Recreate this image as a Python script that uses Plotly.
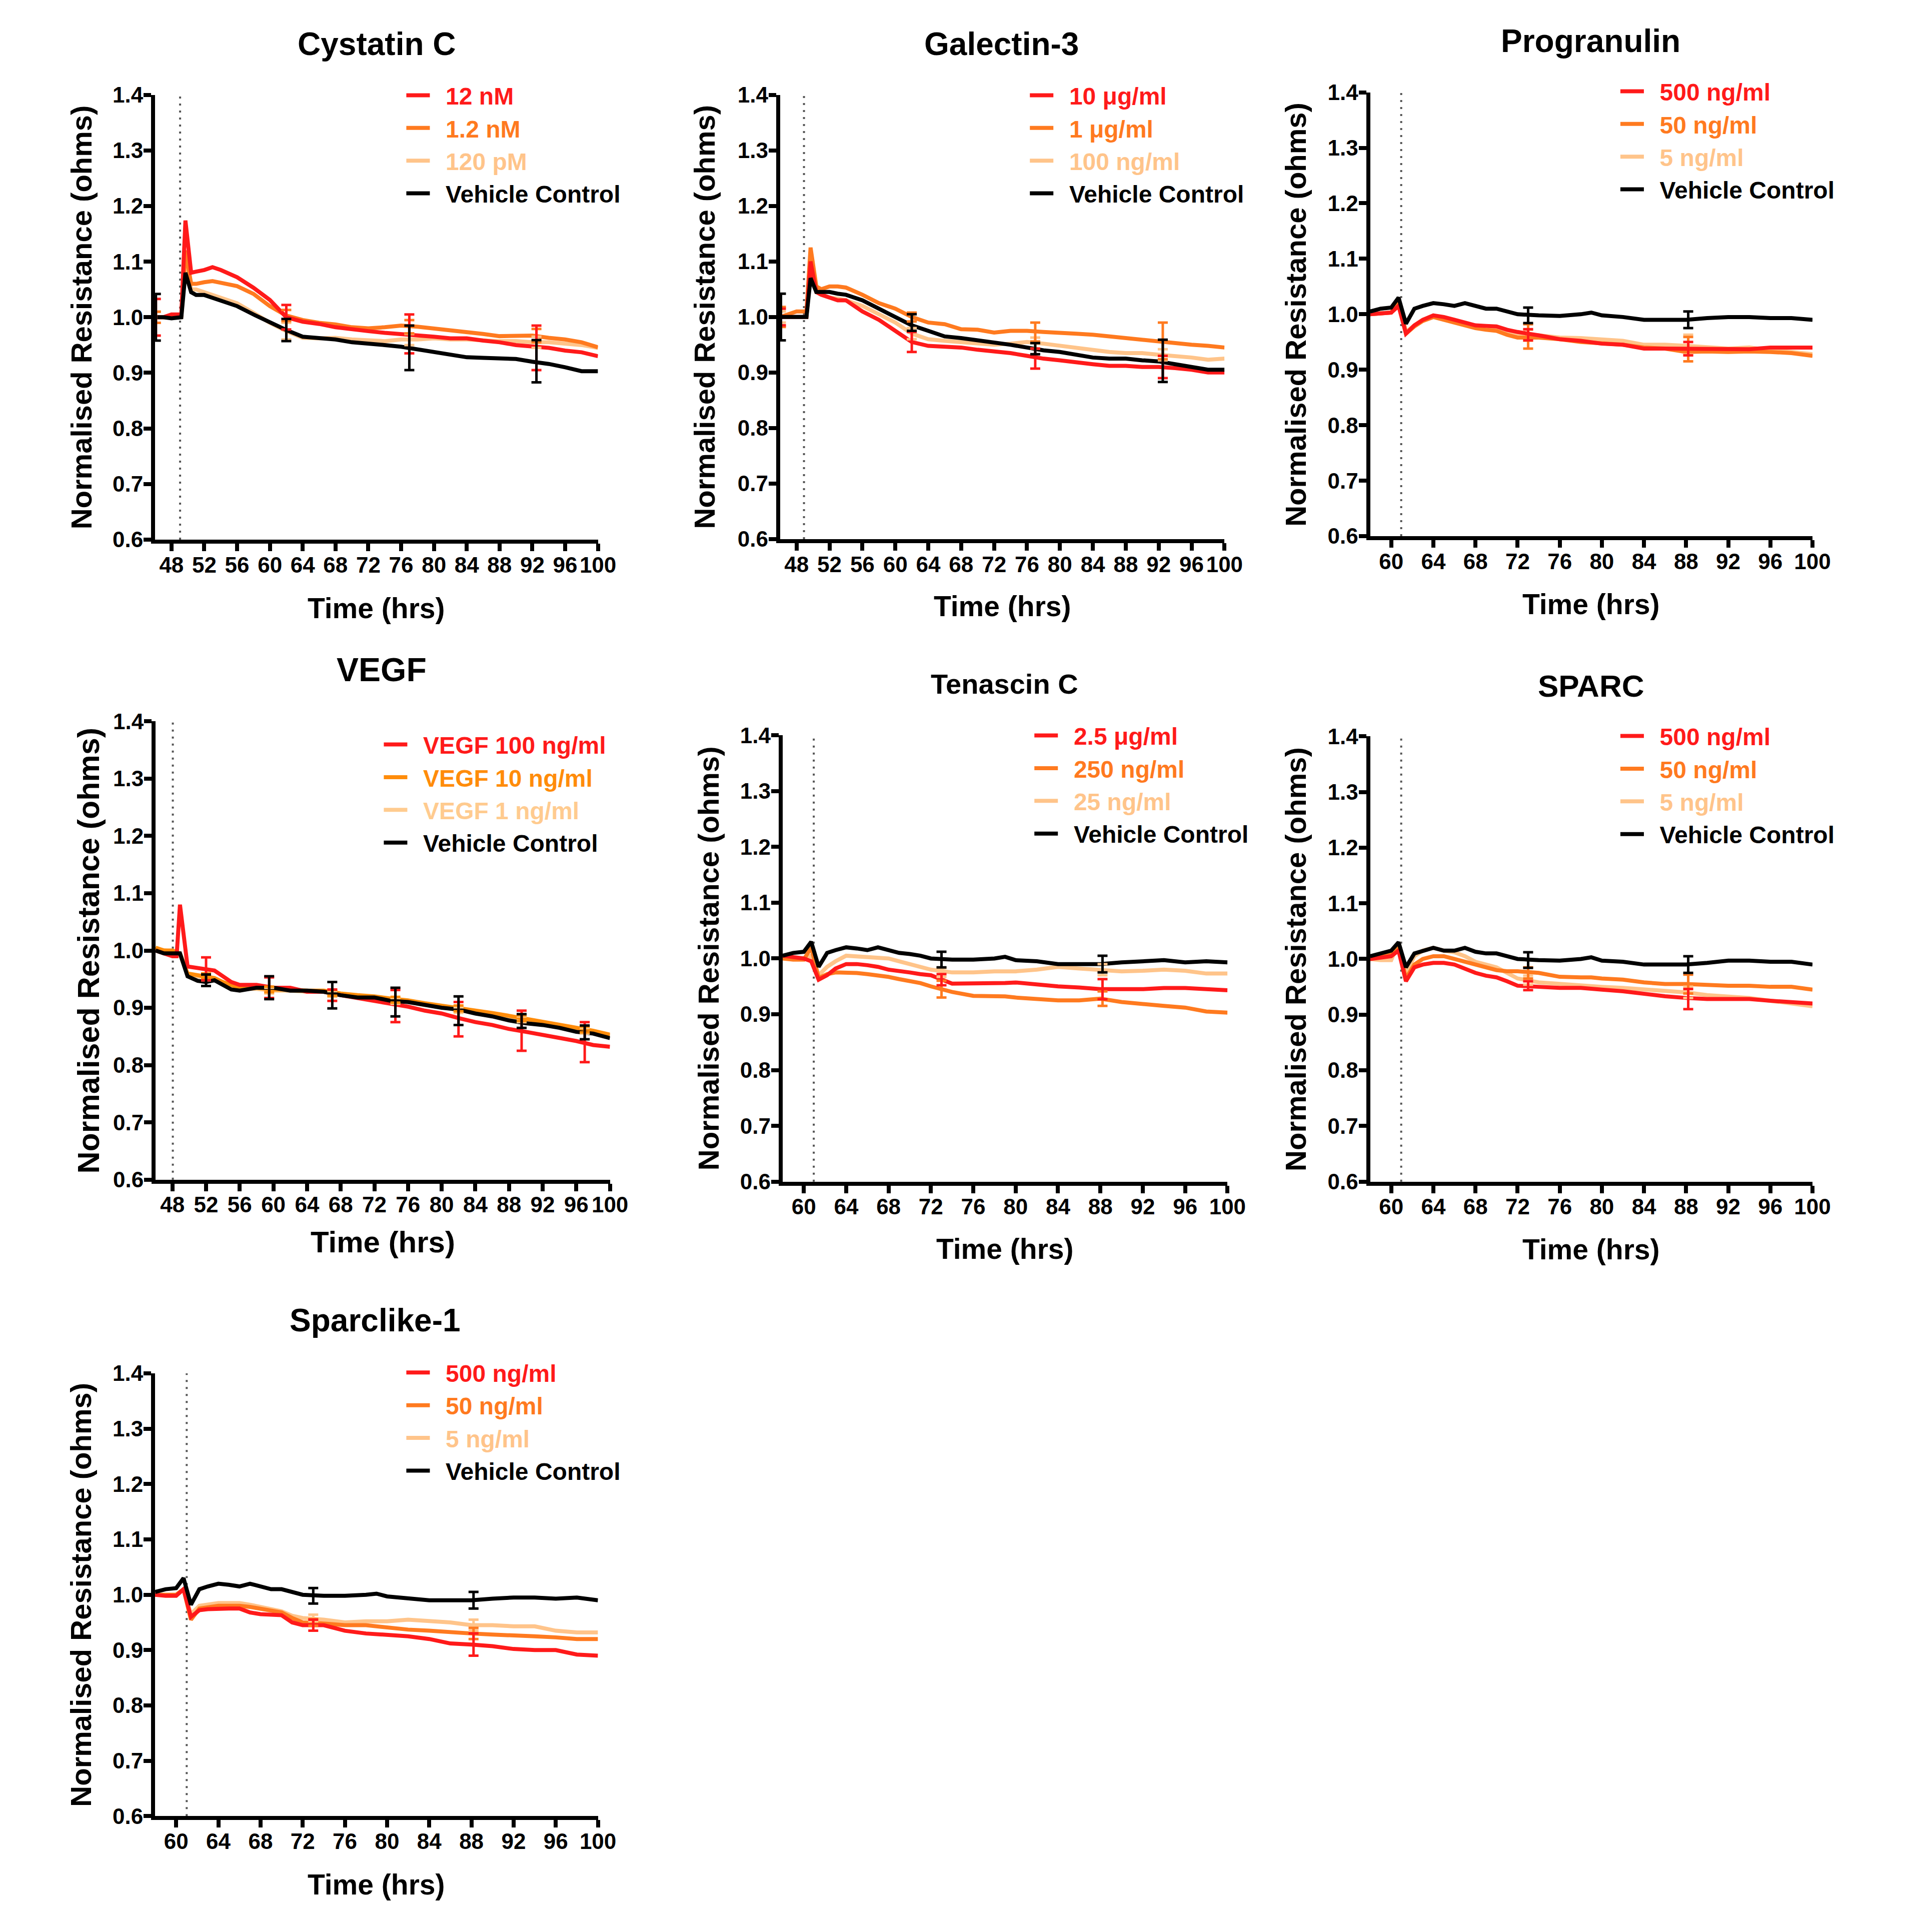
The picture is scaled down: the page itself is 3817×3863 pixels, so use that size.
import plotly.graph_objects as go

W, H = 3817, 3863
FONT = "Liberation Sans, Arial, sans-serif"

# ---------------- colours ----------------
RED = "#FF1A1A"
ORANGE = "#FF7A1F"
PEACH = "#FFC48A"
BLACK = "#000000"
V_ORANGE = "#FF8C0A"
V_PEACH = "#FFCB8F"

# ---------------- data ----------------
# time axes (hrs)
T_A = [46, 47, 48, 49.2, 49.7, 50.4, 51, 52, 53, 54, 56, 58, 60, 62, 64, 66, 68, 70, 72, 74,
       76, 78, 80, 82, 84, 86, 88, 90, 92, 94, 96, 98, 100]
T_V = [46, 47, 48, 48.5, 48.9, 49.8, 51, 52, 53, 54, 55, 56, 58, 60, 62, 64, 66, 68, 70, 72,
       74, 76, 78, 80, 82, 84, 86, 88, 90, 92, 94, 96, 98, 100]
T_B = [58, 59, 60, 60.7, 61.4, 62.2, 63, 64, 65, 66, 67, 68, 69, 70, 71, 72, 74, 76, 78, 79,
       80, 82, 84, 86, 88, 90, 92, 94, 96, 98, 100]

# Cystatin C
CYS_12NM = [1.000, 1.000, 1.005, 1.005, 1.174, 1.080, 1.082, 1.085, 1.090, 1.085, 1.072, 1.053, 1.031,
            1.000, 0.992, 0.988, 0.982, 0.978, 0.975, 0.972, 0.970, 0.968, 0.965, 0.962, 0.962, 0.958,
            0.955, 0.950, 0.948, 0.945, 0.940, 0.937, 0.930]
CYS_1_2NM = [1.000, 1.000, 1.000, 1.003, 1.120, 1.060, 1.060, 1.063, 1.065, 1.062, 1.056, 1.042, 1.020,
             1.003, 0.995, 0.990, 0.987, 0.982, 0.980, 0.982, 0.985, 0.983, 0.980, 0.977, 0.973, 0.970,
             0.966, 0.966, 0.967, 0.963, 0.960, 0.955, 0.946]
CYS_120PM = [1.000, 1.000, 1.000, 1.000, 1.100, 1.050, 1.050, 1.045, 1.040, 1.035, 1.025, 1.008, 0.990,
             0.975, 0.963, 0.962, 0.963, 0.960, 0.958, 0.957, 0.960, 0.960, 0.962, 0.960, 0.960, 0.958,
             0.957, 0.957, 0.955, 0.955, 0.952, 0.950, 0.945]
CYS_VC = [1.000, 1.000, 0.998, 1.000, 1.080, 1.045, 1.040, 1.040, 1.035, 1.030, 1.020, 1.005, 0.990,
          0.977, 0.965, 0.962, 0.960, 0.955, 0.953, 0.950, 0.947, 0.942, 0.937, 0.933, 0.928, 0.927,
          0.926, 0.925, 0.920, 0.916, 0.910, 0.903, 0.903]

# Galectin-3
GAL_10UG = [1.000, 1.000, 1.000, 1.000, 1.100, 1.045, 1.040, 1.035, 1.030, 1.030, 1.010, 0.995, 0.975,
            0.955, 0.948, 0.946, 0.945, 0.941, 0.938, 0.935, 0.930, 0.925, 0.922, 0.918, 0.915, 0.912,
            0.912, 0.910, 0.910, 0.908, 0.905, 0.900, 0.900]
GAL_1UG = [1.000, 1.005, 1.010, 1.010, 1.125, 1.055, 1.050, 1.055, 1.055, 1.053, 1.040, 1.025, 1.015,
           1.000, 0.990, 0.987, 0.978, 0.977, 0.972, 0.975, 0.975, 0.973, 0.972, 0.970, 0.968, 0.965,
           0.962, 0.958, 0.955, 0.953, 0.950, 0.948, 0.945]
GAL_100NG = [1.000, 1.000, 1.000, 1.000, 1.090, 1.045, 1.040, 1.035, 1.033, 1.030, 1.020, 1.005, 0.990,
             0.970, 0.960, 0.957, 0.955, 0.952, 0.950, 0.952, 0.955, 0.952, 0.948, 0.945, 0.940, 0.937,
             0.935, 0.935, 0.932, 0.930, 0.927, 0.923, 0.925]
GAL_VC = [1.000, 1.000, 1.000, 1.000, 1.070, 1.045, 1.045, 1.045, 1.042, 1.040, 1.030, 1.015, 1.000,
          0.985, 0.975, 0.965, 0.962, 0.958, 0.955, 0.950, 0.945, 0.940, 0.937, 0.932, 0.927, 0.925,
          0.925, 0.922, 0.920, 0.915, 0.910, 0.905, 0.905]

# VEGF
VEGF_100 = [1.000, 0.995, 0.990, 0.990, 1.080, 0.972, 0.970, 0.968, 0.965, 0.955, 0.945, 0.940, 0.940,
            0.935, 0.935, 0.928, 0.928, 0.922, 0.917, 0.912, 0.907, 0.902, 0.895, 0.890, 0.882, 0.875,
            0.870, 0.863, 0.858, 0.853, 0.848, 0.842, 0.835, 0.832]
VEGF_10 = [1.005, 1.000, 1.000, 0.998, 0.995, 0.960, 0.957, 0.955, 0.952, 0.945, 0.940, 0.935, 0.935,
           0.932, 0.932, 0.930, 0.930, 0.925, 0.922, 0.920, 0.916, 0.913, 0.908, 0.904, 0.900, 0.896,
           0.891, 0.886, 0.881, 0.876, 0.871, 0.865, 0.860, 0.853]
VEGF_1 = [1.003, 1.000, 0.998, 0.997, 0.993, 0.958, 0.955, 0.953, 0.950, 0.943, 0.938, 0.933, 0.933,
          0.930, 0.930, 0.928, 0.928, 0.923, 0.920, 0.918, 0.913, 0.910, 0.905, 0.901, 0.897, 0.893,
          0.888, 0.883, 0.878, 0.873, 0.868, 0.862, 0.857, 0.850]
VEGF_VC = [1.000, 0.995, 0.995, 0.995, 0.995, 0.955, 0.947, 0.945, 0.948, 0.940, 0.932, 0.930, 0.935,
           0.935, 0.930, 0.930, 0.928, 0.922, 0.918, 0.918, 0.912, 0.910, 0.905, 0.900, 0.897, 0.890,
           0.885, 0.878, 0.873, 0.870, 0.865, 0.858, 0.855, 0.847]

# Progranulin
PRG_500 = [1.000, 1.002, 1.003, 1.015, 0.965, 0.980, 0.990, 0.998, 0.995, 0.990, 0.985, 0.980, 0.979,
           0.978, 0.972, 0.968, 0.962, 0.955, 0.952, 0.950, 0.947, 0.945, 0.938, 0.938, 0.938, 0.937,
           0.937, 0.937, 0.940, 0.940, 0.940]
PRG_50 = [1.000, 1.002, 1.003, 1.020, 0.965, 0.978, 0.988, 0.995, 0.990, 0.985, 0.980, 0.975, 0.972,
          0.970, 0.963, 0.958, 0.958, 0.955, 0.950, 0.949, 0.948, 0.945, 0.940, 0.938, 0.932, 0.933,
          0.932, 0.933, 0.932, 0.930, 0.925]
PRG_5 = [1.000, 1.002, 1.003, 1.030, 0.968, 0.980, 0.990, 0.997, 0.992, 0.987, 0.983, 0.978, 0.975,
         0.972, 0.966, 0.962, 0.962, 0.958, 0.957, 0.956, 0.955, 0.952, 0.945, 0.945, 0.943, 0.940,
         0.938, 0.940, 0.935, 0.932, 0.928]
PRG_VC = [1.005, 1.010, 1.012, 1.030, 0.983, 1.010, 1.015, 1.020, 1.018, 1.015, 1.020, 1.015, 1.010,
          1.010, 1.005, 1.000, 0.998, 0.997, 1.000, 1.003, 0.998, 0.995, 0.990, 0.990, 0.990, 0.993,
          0.995, 0.995, 0.993, 0.993, 0.990]

# Tenascin C
TEN_2_5UG = [1.005, 1.003, 1.000, 0.995, 0.962, 0.970, 0.982, 0.990, 0.990, 0.988, 0.985, 0.980, 0.978,
             0.975, 0.972, 0.970, 0.955, 0.955, 0.955, 0.956, 0.957, 0.953, 0.950, 0.948, 0.945, 0.945,
             0.945, 0.947, 0.947, 0.945, 0.943]
TEN_250NG = [1.000, 0.998, 0.998, 1.020, 0.965, 0.972, 0.975, 0.975, 0.974, 0.972, 0.970, 0.967, 0.963,
             0.960, 0.956, 0.950, 0.940, 0.933, 0.933, 0.932, 0.930, 0.928, 0.925, 0.925, 0.928, 0.922,
             0.918, 0.915, 0.912, 0.905, 0.903]
TEN_25NG = [1.000, 1.000, 1.000, 1.005, 0.970, 0.985, 0.995, 1.005, 1.004, 1.003, 1.001, 1.000, 0.995,
            0.990, 0.985, 0.980, 0.975, 0.975, 0.977, 0.977, 0.977, 0.980, 0.985, 0.982, 0.980, 0.977,
            0.978, 0.980, 0.978, 0.973, 0.973]
TEN_VC = [1.005, 1.010, 1.012, 1.030, 0.985, 1.010, 1.015, 1.020, 1.018, 1.015, 1.020, 1.015, 1.010,
          1.008, 1.005, 1.000, 0.998, 0.998, 1.000, 1.003, 0.997, 0.995, 0.990, 0.990, 0.990, 0.993,
          0.995, 0.997, 0.993, 0.995, 0.993]

# SPARC
SPC_500 = [1.000, 1.003, 1.005, 1.015, 0.960, 0.985, 0.990, 0.993, 0.993, 0.990, 0.982, 0.975, 0.970,
           0.967, 0.960, 0.952, 0.950, 0.948, 0.948, 0.947, 0.945, 0.942, 0.937, 0.933, 0.930, 0.928,
           0.928, 0.928, 0.925, 0.923, 0.920]
SPC_50 = [1.000, 1.005, 1.010, 1.020, 0.965, 0.990, 1.000, 1.005, 1.005, 1.000, 0.995, 0.990, 0.985,
          0.980, 0.978, 0.978, 0.975, 0.968, 0.967, 0.967, 0.965, 0.963, 0.958, 0.955, 0.955, 0.953,
          0.952, 0.952, 0.950, 0.950, 0.945]
SPC_5 = [1.000, 0.998, 0.998, 1.030, 0.975, 1.005, 1.015, 1.020, 1.015, 1.012, 1.005, 0.995, 0.990,
         0.985, 0.975, 0.965, 0.958, 0.955, 0.952, 0.951, 0.950, 0.948, 0.945, 0.943, 0.940, 0.935,
         0.932, 0.930, 0.925, 0.920, 0.915]
SPC_VC = [1.005, 1.010, 1.015, 1.030, 0.985, 1.010, 1.015, 1.020, 1.015, 1.015, 1.020, 1.013, 1.010,
          1.010, 1.005, 1.000, 0.998, 0.997, 1.000, 1.003, 0.997, 0.995, 0.990, 0.990, 0.990, 0.993,
          0.997, 0.997, 0.995, 0.995, 0.990]

# Sparclike-1
SPL_500 = [1.000, 0.998, 0.998, 1.010, 0.960, 0.972, 0.974, 0.975, 0.975, 0.975, 0.968, 0.965, 0.964,
           0.963, 0.950, 0.945, 0.945, 0.935, 0.930, 0.929, 0.928, 0.925, 0.920, 0.912, 0.910, 0.907,
           0.902, 0.900, 0.900, 0.892, 0.890]
SPL_50 = [1.000, 1.000, 1.000, 1.010, 0.955, 0.975, 0.978, 0.980, 0.980, 0.980, 0.978, 0.975, 0.972,
          0.968, 0.958, 0.950, 0.948, 0.945, 0.945, 0.943, 0.942, 0.937, 0.935, 0.932, 0.930, 0.928,
          0.927, 0.925, 0.923, 0.920, 0.920]
SPL_5 = [1.000, 1.000, 1.000, 1.010, 0.965, 0.980, 0.983, 0.985, 0.985, 0.985, 0.982, 0.978, 0.974,
         0.970, 0.962, 0.958, 0.955, 0.950, 0.952, 0.952, 0.952, 0.955, 0.953, 0.950, 0.945, 0.945,
         0.943, 0.943, 0.935, 0.932, 0.932]
SPL_VC = [1.005, 1.010, 1.012, 1.030, 0.982, 1.010, 1.015, 1.020, 1.018, 1.015, 1.020, 1.015, 1.010,
          1.010, 1.005, 1.000, 0.998, 0.998, 1.000, 1.002, 0.997, 0.993, 0.990, 0.990, 0.990, 0.993,
          0.995, 0.995, 0.993, 0.995, 0.990]

# error bars (time, mean, sem)
ERR_T_A = [46.1, 62, 77, 92.5]
ERR_T_V = [52, 59.5, 67, 74.5, 82, 89.5, 97]
ERR_T_B = [73, 88.2]

CYS_ERR = {
    "red": ([1.000, 1.000, 0.970, 0.945], [0.033, 0.022, 0.035, 0.040]),
    "orange": ([1.000, 1.003, 0.983, 0.967], [0.010, 0.010, 0.012, 0.012]),
    "peach": ([1.000, 0.975, 0.960, 0.955], [0.010, 0.015, 0.010, 0.010]),
    "black": ([1.000, 0.977, 0.945, 0.921], [0.042, 0.020, 0.040, 0.038]),
}
GAL_ERR = {
    "red": ([1.000, 0.955, 0.925, 0.910], [0.015, 0.018, 0.018, 0.020]),
    "orange": ([1.000, 1.000, 0.973, 0.957], [0.018, 0.008, 0.017, 0.033]),
    "peach": ([1.000, 0.970, 0.953, 0.932], [0.010, 0.010, 0.010, 0.010]),
    "black": ([1.000, 0.990, 0.943, 0.921], [0.042, 0.015, 0.010, 0.038]),
}
VEGF_ERR = {
    "red": ([0.968, 0.935, 0.922, 0.903, 0.880, 0.860, 0.840], [0.020, 0.018, 0.010, 0.028, 0.030, 0.035, 0.035]),
    "orange": ([0.955, 0.932, 0.926, 0.914, 0.899, 0.882, 0.862], [0.005, 0.005, 0.005, 0.005, 0.005, 0.005, 0.005]),
    "peach": ([0.953, 0.930, 0.924, 0.912, 0.896, 0.880, 0.860], [0.005, 0.005, 0.005, 0.005, 0.005, 0.005, 0.005]),
    "black": ([0.948, 0.935, 0.922, 0.910, 0.895, 0.877, 0.857], [0.010, 0.020, 0.023, 0.025, 0.025, 0.012, 0.012]),
}
PRG_ERR = {
    "red": ([0.963, 0.938], [0.010, 0.012]),
    "orange": ([0.960, 0.937], [0.022, 0.022]),
    "peach": ([0.962, 0.945], [0.010, 0.018]),
    "black": ([0.998, 0.990], [0.014, 0.015]),
}
TEN_ERR = {
    "red": ([0.962, 0.945], [0.010, 0.018]),
    "orange": ([0.945, 0.928], [0.015, 0.013]),
    "peach": ([0.975, 0.980], [0.008, 0.010]),
    "black": ([0.998, 0.990], [0.014, 0.015]),
}
SPC_ERR = {
    "red": ([0.952, 0.928], [0.008, 0.018]),
    "orange": ([0.975, 0.955], [0.010, 0.017]),
    "peach": ([0.962, 0.940], [0.008, 0.010]),
    "black": ([0.998, 0.990], [0.014, 0.015]),
}
SPL_ERR = {
    "red": ([0.945, 0.910], [0.010, 0.020]),
    "orange": ([0.950, 0.930], [0.006, 0.010]),
    "peach": ([0.958, 0.945], [0.006, 0.010]),
    "black": ([0.998, 0.990], [0.014, 0.015]),
}

TITLES = ["Cystatin C", "Galectin-3", "Progranulin", "VEGF", "Tenascin C", "SPARC", "Sparclike-1"]
TREAT_TIMES = [49.05, 48.9, 60.95, 48.05, 60.94, 60.95, 61.0]

NAMES = [
    ["12 nM", "1.2 nM", "120 pM", "Vehicle Control"],
    ["10 \u03bcg/ml", "1 \u03bcg/ml", "100 ng/ml", "Vehicle Control"],
    ["500 ng/ml", "50 ng/ml", "5 ng/ml", "Vehicle Control"],
    ["VEGF 100 ng/ml", "VEGF 10 ng/ml", "VEGF 1 ng/ml", "Vehicle Control"],
    ["2.5 \u03bcg/ml", "250 ng/ml", "25 ng/ml", "Vehicle Control"],
    ["500 ng/ml", "50 ng/ml", "5 ng/ml", "Vehicle Control"],
    ["500 ng/ml", "50 ng/ml", "5 ng/ml", "Vehicle Control"],
]

PANEL_DATA = [
    (T_A, [CYS_12NM, CYS_1_2NM, CYS_120PM, CYS_VC], ERR_T_A, CYS_ERR, [46, 100]),
    (T_A, [GAL_10UG, GAL_1UG, GAL_100NG, GAL_VC], ERR_T_A, GAL_ERR, [46, 100]),
    (T_B, [PRG_500, PRG_50, PRG_5, PRG_VC], ERR_T_B, PRG_ERR, [58, 100]),
    (T_V, [VEGF_100, VEGF_10, VEGF_1, VEGF_VC], ERR_T_V, VEGF_ERR, [46, 100]),
    (T_B, [TEN_2_5UG, TEN_250NG, TEN_25NG, TEN_VC], ERR_T_B, TEN_ERR, [58, 100]),
    (T_B, [SPC_500, SPC_50, SPC_5, SPC_VC], ERR_T_B, SPC_ERR, [58, 100]),
    (T_B, [SPL_500, SPL_50, SPL_5, SPL_VC], ERR_T_B, SPL_ERR, [58, 100]),
]

# ---------------- layout (pixel geometry of the reference) ----------------
BOXES = [
    (310, 1195, 186, 1077),
    (1559, 2447, 186, 1076),
    (2738, 3622, 181, 1070),
    (311, 1219, 1441, 2359),
    (1564, 2453, 1469, 2363),
    (2738, 3622, 1471, 2363),
    (310, 1195, 2747, 3634),
]
TITLE_POS = [(753, 84, 64), (2001, 84, 64), (3179, 78, 64), (763, 1337, 66),
             (2007, 1366, 56), (3179, 1370, 62), (750, 2641, 64)]
YLAB_X = [162, 1408, 2589, 177, 1416, 2589, 162]
XLAB_Y = [1214, 1210, 1206, 2484, 2498, 2499, 3771]
LAB_SIZE = [57, 57, 57, 60, 57, 57, 57]
LEGEND_POS = [(815, 194.5), (2061, 194.5), (3241, 186.5), (770, 1495),
              (2070, 1477), (3241, 1478), (815, 2753)]

# page-to-photo correction (measured from the rendered output)
SX, OX = 1.0104, -8.2
SY, OY = 1.011, -29.4


def fx(p):
    return (SX * p + OX) / W


def fy(p):
    return 1 - (SY * p + OY) / H


fig = go.Figure()
keys = ["red", "orange", "peach", "black"]
GAP = "\u00a0\u00a0"

for i in range(7):
    n = i + 1
    sfx = "" if n == 1 else str(n)
    xa, ya = "x" + sfx, "y" + sfx
    leg = "legend" + sfx
    t, series, et, errs, xr = PANEL_DATA[i]
    if i == 3:
        cols = [RED, V_ORANGE, V_PEACH, BLACK]
    else:
        cols = [RED, ORANGE, PEACH, BLACK]
    draw_order = [2, 1, 0, 3]
    for k in draw_order:
        fig.add_trace(go.Scatter(
            x=t, y=series[k], mode="lines", xaxis=xa, yaxis=ya,
            line=dict(color=cols[k], width=8),
            name='<span style="color:%s">%s%s</span>' % (cols[k], GAP, NAMES[i][k]),
            legend=leg, legendrank=k + 1, showlegend=True, hoverinfo="skip",
        ))
    for k in draw_order:
        ey, ee = errs[keys[k]]
        fig.add_trace(go.Scatter(
            x=et, y=ey, mode="markers", xaxis=xa, yaxis=ya,
            marker=dict(size=1, opacity=0, color=cols[k]),
            error_y=dict(type="data", array=ee, visible=True, color=cols[k], thickness=5, width=10),
            showlegend=False, hoverinfo="skip", cliponaxis=False, legend=leg,
        ))

    x0, x1, y0, y1 = BOXES[i]
    axis_common = dict(showline=True, linewidth=8, linecolor="black", ticks="outside",
                       ticklen=15, tickwidth=8, tickcolor="black", showgrid=False, zeroline=False,
                       tickfont=dict(size=44, color="black", family=FONT, weight="bold"),
                       fixedrange=True)
    fig.layout["xaxis" + sfx] = dict(domain=[fx(x0), fx(x1)], anchor=ya, range=xr,
                                     tickmode="linear", tick0=0, dtick=4,
                                     ticklabelstandoff=-10, **axis_common)
    fig.layout["yaxis" + sfx] = dict(domain=[fy(y1), fy(y0)], anchor=xa, range=[0.6, 1.4],
                                     tickmode="linear", tick0=0.6, dtick=0.1, tickformat=".1f",
                                     ticklabelstandoff=-8, **axis_common)

    fig.add_shape(type="line", xref=xa, yref=ya + " domain", x0=TREAT_TIMES[i], x1=TREAT_TIMES[i],
                  y0=0, y1=1, line=dict(color="#555555", width=4, dash="4px,10px"), layer="below")

    tx, ty, ts = TITLE_POS[i]
    fig.add_annotation(text=TITLES[i], xref="paper", yref="paper", x=fx(tx), y=fy(ty),
                       xanchor="center", yanchor="middle", showarrow=False,
                       font=dict(size=ts, color="black", family=FONT, weight="bold"))
    fig.add_annotation(text="Normalised Resistance (ohms)", xref="paper", yref="paper",
                       x=fx(YLAB_X[i]), y=fy((y0 + y1) / 2), textangle=-90,
                       xanchor="center", yanchor="middle", showarrow=False,
                       font=dict(size=LAB_SIZE[i] + 1, color="black", family=FONT, weight="bold"))
    fig.add_annotation(text="Time (hrs)", xref="paper", yref="paper",
                       x=fx((x0 + x1) / 2), y=fy(XLAB_Y[i]),
                       xanchor="center", yanchor="middle", showarrow=False,
                       font=dict(size=LAB_SIZE[i], color="black", family=FONT, weight="bold"))

    lx, lyc = LEGEND_POS[i]
    fig.layout[leg] = dict(x=fx(lx) - 8 / W, y=fy(lyc) + 46 / H, xanchor="left", yanchor="top",
                           bgcolor="rgba(0,0,0,0)", borderwidth=0, itemwidth=47,
                           font=dict(size=48, color="black", family=FONT, weight="bold"),
                           tracegroupgap=0, itemclick=False, itemdoubleclick=False)

fig.update_layout(width=W, height=H, margin=dict(l=0, r=0, t=0, b=0),
                  paper_bgcolor="white", plot_bgcolor="white",
                  font=dict(family=FONT, color="black", weight="bold"),
                  showlegend=True)

fig.write_html("out.html")
